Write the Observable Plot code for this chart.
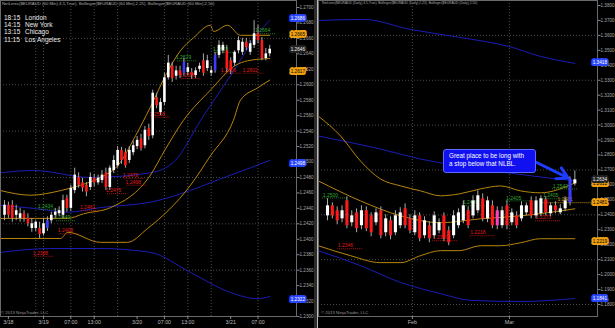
<!DOCTYPE html>
<html><head><meta charset="utf-8">
<script src="https://cdn.jsdelivr.net/npm/d3@7"></script>
<script src="https://cdn.jsdelivr.net/npm/@observablehq/plot@0.6"></script>
<style>
html,body{margin:0;padding:0;background:#000;width:615px;height:328px;overflow:hidden;font-family:"Liberation Sans",Arial,sans-serif}
#wrap{position:relative;width:615px;height:328px;background:#000}
.panel{position:absolute;top:0}
#sep{position:absolute;left:314px;top:0;width:3px;height:328px;background:#2c2c2c;border-right:1px solid #bbb}
.title{position:absolute;top:1px;color:#aaa;white-space:nowrap}
.copy{position:absolute;top:310px;color:#999;font-size:4.3px;white-space:nowrap}
#clock{position:absolute;left:4px;top:14px;color:#eee;font-size:6.5px;line-height:7.2px}
#clock .t{display:inline-block;width:21px}
#callout{position:absolute;left:443px;top:149px;width:86px;height:20px;background:#1010f0;border:1.5px solid #5a6cff;border-radius:3px;color:#fff;font-size:6.3px;line-height:8.4px;padding:2px 0 0 5px;box-sizing:content-box}
</style></head><body>
<div id="wrap">
  <div id="left" class="panel" style="left:0"></div>
  <div id="sep"></div>
  <div id="right" class="panel" style="left:317px"></div>
  <div class="title" style="left:2px;font-size:4.3px" id="tl"></div>
  <div class="title" style="left:322px;font-size:3.3px" id="tr"></div>
  <div class="copy" style="left:1px">© 2013 NinjaTrader, LLC</div>
  <div class="copy" style="left:321px">© 2013 NinjaTrader, LLC</div>
  <div id="clock"></div>
  <div id="callout"></div>
</div>
<script>
// ---------- text ----------
const leftTitle = "NetLines($EURAUD (60 Min),3,5,True), Bollinger($EURAUD (60 Min),2,25), Bollinger($EURAUD (60 Min),2,50)";
const rightTitle = "NetLines($EURAUD (Daily),3,5,True), Bollinger($EURAUD (Daily),2,25), Bollinger($EURAUD (Daily),2,50)";
const clockTimes = ["18:15", "14:15", "13:15", "11:15"];
const clockCities = ["London", "New York", "Chicago", "Los Angeles"];
const calloutLines = ["Great place to be long with", "a stop below that NLBL."];

// ---------- left panel (60 min bars) ----------
const leftOpen = [1.2431,1.2444,1.2444,1.2431,1.2427,1.2433,1.2427,1.2414,1.2414,1.2414,1.2407,1.2414,1.2424,1.2431,1.2433,1.2431,1.2453,1.2440,1.2463,1.2480,1.2473,1.2470,1.2467,1.2479,1.2473,1.2476,1.2486,1.2467,1.2489,1.2495,1.2515,1.2512,1.2502,1.2512,1.2520,1.2530,1.2521,1.2543,1.2534,1.2583,1.2564,1.2577,1.2609,1.2624,1.2611,1.2618,1.2615,1.2616,1.2616,1.2612,1.2620,1.2631,1.2621,1.2615,1.2618,1.2638,1.2644,1.2644,1.2631,1.2628,1.2644,1.2642,1.2655,1.2642,1.2651,1.2666,1.2657,1.2634,1.2640];
const leftClose = [1.2444,1.2431,1.2427,1.2437,1.2433,1.2427,1.2420,1.2420,1.2422,1.2406,1.2420,1.2424,1.2431,1.2435,1.2437,1.2450,1.2440,1.2466,1.2483,1.2470,1.2466,1.2461,1.2480,1.2473,1.2479,1.2483,1.2467,1.2492,1.2502,1.2515,1.2502,1.2495,1.2515,1.2521,1.2528,1.2517,1.2541,1.2533,1.2589,1.2573,1.2577,1.2609,1.2628,1.2608,1.2618,1.2612,1.2629,1.2622,1.2612,1.2618,1.2624,1.2615,1.2631,1.2618,1.2638,1.2651,1.2651,1.2621,1.2618,1.2642,1.2657,1.2655,1.2648,1.2653,1.2666,1.2657,1.2634,1.2640,1.2646];
const leftHigh = [1.2450,1.2448,1.2450,1.2444,1.2440,1.2437,1.2433,1.2427,1.2424,1.2422,1.2427,1.2429,1.2435,1.2440,1.2442,1.2457,1.2457,1.2470,1.2492,1.2486,1.2479,1.2473,1.2486,1.2484,1.2483,1.2489,1.2492,1.2495,1.2508,1.2520,1.2519,1.2517,1.2520,1.2527,1.2533,1.2536,1.2546,1.2549,1.2593,1.2589,1.2582,1.2615,1.2638,1.2629,1.2624,1.2624,1.2634,1.2628,1.2621,1.2622,1.2628,1.2640,1.2638,1.2624,1.2642,1.2657,1.2655,1.2651,1.2635,1.2644,1.2662,1.2660,1.2660,1.2657,1.2683,1.2677,1.2661,1.2647,1.2651];
const leftLow = [1.2424,1.2427,1.2422,1.2424,1.2422,1.2422,1.2416,1.2409,1.2410,1.2401,1.2404,1.2410,1.2420,1.2427,1.2429,1.2427,1.2435,1.2436,1.2459,1.2466,1.2461,1.2455,1.2463,1.2468,1.2470,1.2472,1.2463,1.2463,1.2485,1.2492,1.2497,1.2492,1.2498,1.2508,1.2516,1.2514,1.2517,1.2528,1.2530,1.2569,1.2560,1.2573,1.2606,1.2603,1.2606,1.2608,1.2611,1.2612,1.2607,1.2608,1.2616,1.2611,1.2617,1.2611,1.2615,1.2634,1.2640,1.2616,1.2613,1.2624,1.2640,1.2638,1.2644,1.2638,1.2647,1.2653,1.2631,1.2631,1.2636];
const leftBlueBars = [11, 46, 54];

const leftUpper25 = [[-1,1.2463],[6.7,1.2457],[14.4,1.2463],[19.5,1.2470],[24.6,1.2480],[29,1.2495],[33.6,1.2534],[37.4,1.2571],[41.3,1.2612],[45.1,1.2644],[48.5,1.2661],[52.8,1.2677],[53.6,1.2669],[57.2,1.2677],[60.5,1.2664],[68,1.2664]];
const leftMiddle25 = [[-1,1.2427],[16.2,1.2427],[20.3,1.2433],[27.2,1.2441],[37.4,1.2483],[41.3,1.2517],[45.9,1.2554],[52.8,1.2593],[59.2,1.2625],[62.3,1.2631],[68,1.2634]];
const leftLower25 = [[-1,1.2401],[14.4,1.2401],[16.2,1.2409],[24.6,1.2396],[31.5,1.2396],[36.7,1.2414],[47.7,1.2470],[52.8,1.2508],[58.7,1.2554],[60.5,1.2580],[64.9,1.2596],[68,1.2606]];
const leftUpper50 = [[-1,1.2486],[7.4,1.2489],[22,1.2480],[37.4,1.2486],[43.8,1.2502],[50.3,1.2554],[58,1.2612],[65.6,1.2670],[68,1.2683]];
const leftMiddle50 = [[-1,1.2444],[7.4,1.2440],[16.2,1.2435],[24.6,1.2441],[37.4,1.2448],[58,1.2483],[68,1.2502]];
const leftLower50 = [[-1,1.2383],[11.8,1.2388],[24.6,1.2388],[37.4,1.2383],[47.7,1.2357],[58,1.2331],[64.9,1.2323],[68,1.2326]];

const leftPriceTicks = [1.2300,1.2320,1.2340,1.2360,1.2380,1.2400,1.2420,1.2440,1.2460,1.2480,1.2500,1.2520,1.2540,1.2560,1.2580,1.2600,1.2620,1.2640,1.2660,1.2680,1.2700];
const leftGridPrices = [1.2360,1.2420,1.2480,1.2540,1.2600,1.2660];
const leftTimeTicks = [1, 10, 17, 23, 34, 41, 47, 58, 65];
const leftTimeLabels = ["3/18","3/19","07:00","13:00","3/20","07:00","13:00","3/21","07:00"];
const leftGridIdx = [8, 10, 17, 23, 29, 41, 47, 53, 65];

const leftTagValues = [1.2686, 1.2665, 1.2617, 1.2498, 1.2322, 1.2646];
const leftTagKinds = ["blue","orange","orange","blue","blue","gray"];

const leftNetIdx = [10.5, 14.9, 15.6, 9.2, 21.3, 28, 32.3, 33, 39.2, 46.9, 57.4, 63, 45.9, 55.4, 66.2];
const leftNetPrice = [1.2439, 1.2424, 1.2407, 1.2378, 1.2437, 1.2459, 1.2479, 1.2470, 1.2558, 1.2608, 1.2615, 1.2615, 1.2631, 1.2642, 1.2666];
const leftNetText = ["1.2434","1.2449","1.2408","1.2388","1.2461","1.2475","1.2479","1.2468","1.2568","1.2606","1.2606","1.2602","1.2629","1.2629","1.2664"];
const leftNetKind = ["g","g","r","r","r","r","r","r","r","r","r","r","g","g","g"];

// ---------- right panel (daily bars) ----------
const rightOpen = [1.2393,1.2460,1.2427,1.2373,1.2493,1.2347,1.2413,1.2327,1.2427,1.2393,1.2347,1.2427,1.2280,1.2360,1.2280,1.2327,1.2440,1.2373,1.2280,1.2393,1.2260,1.2327,1.2260,1.2293,1.2393,1.2293,1.2260,1.2327,1.2360,1.2427,1.2393,1.2427,1.2507,1.2373,1.2460,1.2427,1.2327,1.2460,1.2347,1.2393,1.2373,1.2413,1.2493,1.2393,1.2407,1.2500,1.2407,1.2460,1.2413,1.2440,1.2480,1.2607];
const rightClose = [1.2460,1.2393,1.2360,1.2427,1.2327,1.2393,1.2307,1.2427,1.2307,1.2280,1.2413,1.2260,1.2373,1.2260,1.2393,1.2413,1.2327,1.2293,1.2393,1.2240,1.2360,1.2240,1.2393,1.2347,1.2240,1.2213,1.2393,1.2413,1.2460,1.2327,1.2493,1.2527,1.2373,1.2493,1.2327,1.2327,1.2427,1.2327,1.2413,1.2327,1.2460,1.2460,1.2393,1.2493,1.2507,1.2413,1.2460,1.2427,1.2440,1.2493,1.2640,1.2634];
const rightHigh = [1.2507,1.2480,1.2453,1.2460,1.2520,1.2427,1.2440,1.2460,1.2453,1.2413,1.2440,1.2453,1.2400,1.2387,1.2427,1.2447,1.2473,1.2400,1.2427,1.2413,1.2387,1.2353,1.2420,1.2373,1.2413,1.2320,1.2427,1.2440,1.2493,1.2453,1.2527,1.2560,1.2540,1.2520,1.2493,1.2453,1.2453,1.2493,1.2440,1.2420,1.2487,1.2480,1.2520,1.2520,1.2527,1.2520,1.2480,1.2487,1.2467,1.2520,1.2653,1.2693];
const rightLow = [1.2360,1.2373,1.2333,1.2347,1.2307,1.2320,1.2280,1.2300,1.2287,1.2253,1.2327,1.2240,1.2253,1.2233,1.2260,1.2307,1.2307,1.2273,1.2260,1.2220,1.2240,1.2213,1.2240,1.2273,1.2220,1.2193,1.2240,1.2307,1.2340,1.2307,1.2373,1.2407,1.2353,1.2347,1.2307,1.2300,1.2307,1.2300,1.2327,1.2307,1.2353,1.2393,1.2373,1.2373,1.2387,1.2393,1.2387,1.2407,1.2400,1.2420,1.2460,1.2593];
const rightBlueBars = [50];
const rightPinkBars = [35];

const rightUpper25 = [[-1.9,1.3060],[2.7,1.2927],[6.8,1.2760],[10.9,1.2640],[15.1,1.2593],[19.2,1.2560],[23.3,1.2527],[27.2,1.2540],[31.5,1.2573],[35.7,1.2593],[39.8,1.2560],[43.9,1.2547],[51,1.2613]];
const rightMiddle25 = [[-1.9,1.2627],[6.8,1.2493],[15.1,1.2393],[23.3,1.2347],[31.5,1.2373],[39.8,1.2393],[51,1.2440]];
const rightLower25 = [[-1.9,1.2193],[4.7,1.2127],[10.9,1.2080],[15.1,1.2080],[19.2,1.2127],[23.3,1.2160],[27.2,1.2160],[31.5,1.2193],[35.7,1.2193],[39.8,1.2213],[43.9,1.2240],[51,1.2240]];
const rightUpper50 = [[-1.9,1.3700],[7.4,1.3707],[17.1,1.3640],[27.2,1.3587],[37.3,1.3527],[43.9,1.3460],[51,1.3413]];
const rightMiddle50 = [[-1.9,1.2927],[10.9,1.2840],[19.2,1.2773],[31.5,1.2707],[43.9,1.2653],[51,1.2627]];
const rightLower50 = [[-1.9,1.2160],[6.8,1.2060],[15.1,1.1947],[23.3,1.1873],[29.7,1.1827],[39.8,1.1820],[51,1.1840]];

const rightPriceTicks = [1.1800,1.1900,1.2000,1.2100,1.2200,1.2300,1.2400,1.2500,1.2600,1.2700,1.2800,1.2900,1.3000,1.3100,1.3200,1.3300,1.3400,1.3500,1.3600,1.3700,1.3800];
const rightGridPrices = [1.1800,1.2100,1.2400,1.2700,1.3000,1.3300,1.3600];
const rightDateTicks = [17.5, 37.5];
const rightDateLabels = ["Feb", "Mar"];

const rightTagValues = [1.3418, 1.2612, 1.2481, 1.2219, 1.1841, 1.2634];
const rightTagKinds = ["blue","orange","orange","orange","blue","gray"];

const rightNetIdx = [0.6, 3.7, 23.3, 29.5, 31, 38.4, 44.5, 46, 48];
const rightNetPrice = [1.2513, 1.2173, 1.2227, 1.2460, 1.2260, 1.2493, 1.2360, 1.2507, 1.2573];
const rightNetText = ["1.2500","1.2346","1.2317","1.2445","1.2218","1.2405","1.2273","1.2405","1.2542"];
const rightNetKind = ["g","r","r","g","r","g","r","g","g"];

const nlblLevel = 1.2481, nlblFrom = 44, nlblText = "1.2481";
const arrowFrom = [42.9, 1.2753];
const arrowTo = [49.6, 1.2647];

// ---------- styling ----------
const ORANGE = "#b8860b", BLUE = "#1c1cb8";
const candleFill = {up: "#ffffff", down: "#ff1a1a", blue: "#3c3cff", pink: "#ff40c0"};
const tagFill = {blue: "#2a46ff", orange: "#f0a010", gray: "#222"};
const tagText = {blue: "#fff", orange: "#000", gray: "#eee"};

function candles(open, close, high, low, blue, pink) {
  return open.map((o, i) => ({
    i, o, c: close[i], h: high[i], l: low[i],
    k: blue.includes(i) ? "blue" : pink.includes(i) ? "pink" : (close[i] >= o ? "up" : "down")
  }));
}
function bodyEnd(d, minH) { return Math.abs(d.c - d.o) < minH ? d.o + (d.c >= d.o ? minH : -minH) : d.c; }

function panel({width, marginLeft, marginRight, xDomain, yDomain, yRange, data, bands, ticks, grid, gridX, xTicks, xLabels, tags, nets, bodyW, minH, extra, tagDx}) {
  const lab = new Map(xTicks.map((t, i) => [t, xLabels[i]]));
  const netData = nets.idx.map((x, i) => ({x, p: nets.price[i], t: nets.text[i], k: nets.kind[i]}));
  const tagData = tags.values.map((v, i) => ({v, k: tags.kinds[i]}));
  return Plot.plot({
    width, height: 328, marginLeft, marginRight, marginTop: 0, marginBottom: 12,
    style: {background: "transparent", color: "#aaa", fontSize: "5px", fontFamily: "Liberation Sans, Arial, sans-serif", overflow: "visible"},
    x: {domain: xDomain},
    y: {domain: yDomain, range: yRange},
    marks: [
      Plot.ruleY(grid, {stroke: "#4a4a4a", strokeDasharray: "1,2"}),
      Plot.ruleX(gridX, {stroke: "#4a4a4a", strokeDasharray: "1,2"}),
      ...bands.map(([b, color]) => Plot.line(b, {x: d => d[0], y: d => d[1], stroke: color, strokeWidth: 1, curve: "monotone-x"})),
      Plot.ruleY(netData, {y: "p", x1: d => d.x - 1.6, x2: d => d.x + 3.6, stroke: d => d.k === "g" ? "#2e9a2e" : "#d01818", strokeDasharray: "1,1", strokeWidth: 0.8}),
      Plot.text(netData, {x: "x", y: "p", text: "t", dy: -3, fill: d => d.k === "g" ? "#2fa52f" : "#e01a1a", fontSize: 5}),
      ...(extra || []),
      Plot.ruleX(data, {x: "i", y1: "l", y2: "h", stroke: "#aaa", strokeWidth: 1}),
      Plot.ruleX(data, {x: "i", y1: "o", y2: d => bodyEnd(d, minH), stroke: d => candleFill[d.k], strokeWidth: bodyW}),
      Plot.frame({stroke: "#6a6a6a"}),
      Plot.axisY({anchor: "right", ticks, tickFormat: d => d.toFixed(4), tickSize: 2.5, tickPadding: 0.5, fontSize: 4.6, label: null, stroke: "#888", fill: "#a8a8a8"}),
      Plot.axisX({ticks: xTicks, tickFormat: d => lab.get(d), tickSize: 3, tickPadding: 1, fontSize: 5.3, label: null, stroke: "#888", fill: "#bbb"}),
      Plot.text(tagData, {y: "v", frameAnchor: "right", dx: tagDx, text: d => d.v.toFixed(4), fontSize: 4.7, fill: d => tagText[d.k],
        stroke: d => tagFill[d.k], strokeWidth: 3.8, strokeLinejoin: "round", paintOrder: "stroke"})
    ]
  });
}

const left = panel({
  width: 314, marginLeft: 0, marginRight: 18,
  xDomain: [-1.03, 74.87], yDomain: [1.23, 1.27], yRange: [316, 7],
  data: candles(leftOpen, leftClose, leftHigh, leftLow, leftBlueBars, []),
  bands: [[leftUpper50, BLUE], [leftMiddle50, BLUE], [leftLower50, BLUE], [leftUpper25, ORANGE], [leftMiddle25, ORANGE], [leftLower25, ORANGE]],
  ticks: leftPriceTicks, grid: leftGridPrices, gridX: leftGridIdx, xTicks: leftTimeTicks, xLabels: leftTimeLabels,
  tags: {values: leftTagValues, kinds: leftTagKinds},
  nets: {idx: leftNetIdx, price: leftNetPrice, text: leftNetText, kind: leftNetKind},
  bodyW: 2.6, minH: 0.00008, tagDx: 8.5
});
document.getElementById("left").append(left);

const right = panel({
  width: 298, marginLeft: 1, marginRight: 18,
  xDomain: [-1.856, 55.67], yDomain: [1.18, 1.38], yRange: [304, 5],
  data: candles(rightOpen, rightClose, rightHigh, rightLow, rightBlueBars, rightPinkBars),
  bands: [[rightUpper50, BLUE], [rightMiddle50, BLUE], [rightLower50, BLUE], [rightUpper25, ORANGE], [rightMiddle25, ORANGE], [rightLower25, ORANGE]],
  ticks: rightPriceTicks, grid: rightGridPrices, gridX: rightDateTicks, xTicks: rightDateTicks, xLabels: rightDateLabels,
  tags: {values: rightTagValues, kinds: rightTagKinds},
  nets: {idx: rightNetIdx, price: rightNetPrice, text: rightNetText, kind: rightNetKind},
  bodyW: 3.1, minH: 0.0005, tagDx: 9.5,
  extra: [
    Plot.ruleY([nlblLevel], {x1: nlblFrom, x2: 55.6, stroke: "#d08a10", strokeDasharray: "1,1"}),
    Plot.text([nlblLevel], {x: nlblFrom + 5, y: d => d, text: () => nlblText, dy: -3, fill: "#d08a10", fontSize: 5}),
    Plot.arrow([0], {x1: () => arrowFrom[0], y1: () => arrowFrom[1], x2: () => arrowTo[0], y2: () => arrowTo[1], stroke: "#1e3cff", strokeWidth: 3, headLength: 7})
  ]
});
document.getElementById("right").append(right);

document.getElementById("tl").textContent = leftTitle;
document.getElementById("tr").textContent = rightTitle;
document.getElementById("clock").innerHTML = clockTimes.map((t, i) => `<div><span class="t">${t}</span>${clockCities[i]}</div>`).join("");
document.getElementById("callout").innerHTML = calloutLines.join("<br>");
</script>
</body></html>
